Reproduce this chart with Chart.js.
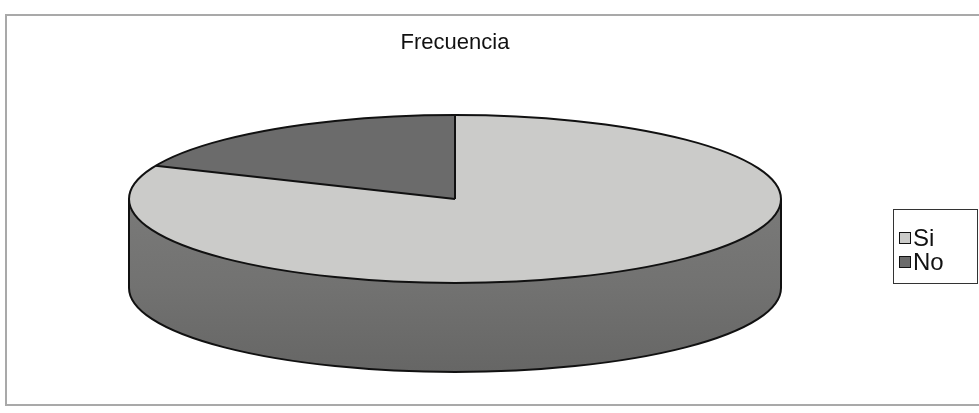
<!DOCTYPE html>
<html>
<head>
<meta charset="utf-8">
<title>Frecuencia</title>
<script src="https://cdn.jsdelivr.net/npm/chart.js@4.4.1/dist/chart.umd.min.js"></script>
<style>
    html, body { margin: 0; padding: 0; background: #fff; overflow: hidden; }
    #frame { position: absolute; left: 5px; top: 14px; width: 1000px; height: 388px; border: 2px solid #a9a9a9; }
    #wrap { position: absolute; left: 0; top: 0; width: 979px; height: 413px; }
</style>
</head>
<body>
<div id="frame"></div>
<div id="wrap"><canvas id="frecuenciaChart"></canvas></div>
<script>
// data
const categories = ['Si', 'No'];
const frequencies = [44, 10];

// look
const sliceColors = ['#cbcbc9', '#6b6b6b'];
const PIE_CX = 455, PIE_CY = 199, PIE_RX = 326, PIE_RY = 84, PIE_DEPTH = 89;
const LEG_X = 893, LEG_Y = 209, LEG_W = 84, LEG_H = 74;
const FONT = '"Liberation Sans", Arial, sans-serif';

function shade(hex, f) {
    const n = parseInt(hex.slice(1), 16);
    const r = Math.round(((n >> 16) & 255) * f);
    const g = Math.round(((n >> 8) & 255) * f);
    const b = Math.round((n & 255) * f);
    return `rgb(${r}, ${g}, ${b})`;
}

// side wall of one slice between two angles (front half only)
function drawWall(ctx, a0, a1, color) {
    const grad = ctx.createLinearGradient(0, PIE_CY, 0, PIE_CY + PIE_RY + PIE_DEPTH);
    grad.addColorStop(0, shade(color, 0.6));
    grad.addColorStop(0.5, shade(color, 0.56));
    grad.addColorStop(1, shade(color, 0.5));
    ctx.beginPath();
    ctx.ellipse(PIE_CX, PIE_CY, PIE_RX, PIE_RY, 0, a0, a1);
    ctx.ellipse(PIE_CX, PIE_CY + PIE_DEPTH, PIE_RX, PIE_RY, 0, a1, a0, true);
    ctx.closePath();
    ctx.fillStyle = grad;
    ctx.fill();
}

const pie3d = {
    id: 'pie3d',
    beforeDatasetsDraw(chart) {
        const ctx = chart.ctx;
        const meta = chart.getDatasetMeta(0);
        const colors = chart.data.datasets[0].backgroundColor;
        meta.data.forEach((arc, i) => {
            const { startAngle, endAngle } = arc.getProps(['startAngle', 'endAngle'], true);
            [[0, Math.PI], [2 * Math.PI, 3 * Math.PI], [-2 * Math.PI, -Math.PI]].forEach(([lo, hi]) => {
                const a0 = Math.max(startAngle, lo), a1 = Math.min(endAngle, hi);
                if (a1 > a0) drawWall(ctx, a0, a1, colors[i]);
            });
        });
        // squash the flat pie into the top ellipse
        const arc0 = meta.data[0];
        const R = arc0.outerRadius;
        ctx.save();
        ctx.translate(PIE_CX, PIE_CY);
        ctx.scale(PIE_RX / R, PIE_RY / R);
        ctx.translate(-arc0.x, -arc0.y);
    },
    afterDatasetsDraw(chart) {
        const ctx = chart.ctx;
        ctx.restore();
        const meta = chart.getDatasetMeta(0);
        ctx.save();
        ctx.strokeStyle = '#111';
        ctx.lineWidth = 2;
        ctx.lineJoin = 'round';
        // top rim
        ctx.beginPath();
        ctx.ellipse(PIE_CX, PIE_CY, PIE_RX, PIE_RY, 0, 0, Math.PI * 2);
        ctx.stroke();
        // slice edges
        meta.data.forEach(arc => {
            const a = arc.startAngle;
            ctx.beginPath();
            ctx.moveTo(PIE_CX, PIE_CY);
            ctx.lineTo(PIE_CX + PIE_RX * Math.cos(a), PIE_CY + PIE_RY * Math.sin(a));
            ctx.stroke();
        });
        // side outline
        ctx.beginPath();
        ctx.moveTo(PIE_CX + PIE_RX, PIE_CY);
        ctx.ellipse(PIE_CX, PIE_CY + PIE_DEPTH, PIE_RX, PIE_RY, 0, 0, Math.PI);
        ctx.lineTo(PIE_CX - PIE_RX, PIE_CY);
        ctx.stroke();
        ctx.restore();
    }
};

// boxed legend like the original
const boxLegend = {
    id: 'boxLegend',
    afterDraw(chart) {
        const ctx = chart.ctx;
        const ds = chart.data.datasets[0];
        ctx.save();
        ctx.strokeStyle = '#333';
        ctx.lineWidth = 1;
        ctx.strokeRect(LEG_X + 0.5, LEG_Y + 0.5, LEG_W, LEG_H);
        ctx.font = '24px ' + FONT;
        ctx.textBaseline = 'middle';
        chart.data.labels.forEach((label, i) => {
            const y = LEG_Y + 29 + i * 24;
            ctx.fillStyle = ds.backgroundColor[i];
            ctx.fillRect(LEG_X + 6, y - 6, 12, 12);
            ctx.strokeStyle = '#111';
            ctx.strokeRect(LEG_X + 6.5, y - 5.5, 11, 11);
            ctx.fillStyle = '#111';
            ctx.fillText(label, LEG_X + 20, y + 1);
        });
        ctx.restore();
    }
};

const ctx = document.getElementById('frecuenciaChart').getContext('2d');
new Chart(ctx, {
    type: 'pie',
    data: {
        labels: categories,
        datasets: [{
            data: frequencies,
            backgroundColor: sliceColors,
            borderWidth: 0,
            clip: false
        }]
    },
    options: {
        responsive: true,
        maintainAspectRatio: false,
        animation: false,
        layout: { padding: { left: 6, right: 75, top: 14 } },
        plugins: {
            legend: { display: false },
            tooltip: { enabled: false },
            title: {
                display: true,
                text: 'Frecuencia',
                color: '#111',
                padding: { top: 16, bottom: 0 },
                font: { family: FONT, size: 22, weight: 'normal' }
            }
        }
    },
    plugins: [pie3d, boxLegend]
});
</script>
</body>
</html>
